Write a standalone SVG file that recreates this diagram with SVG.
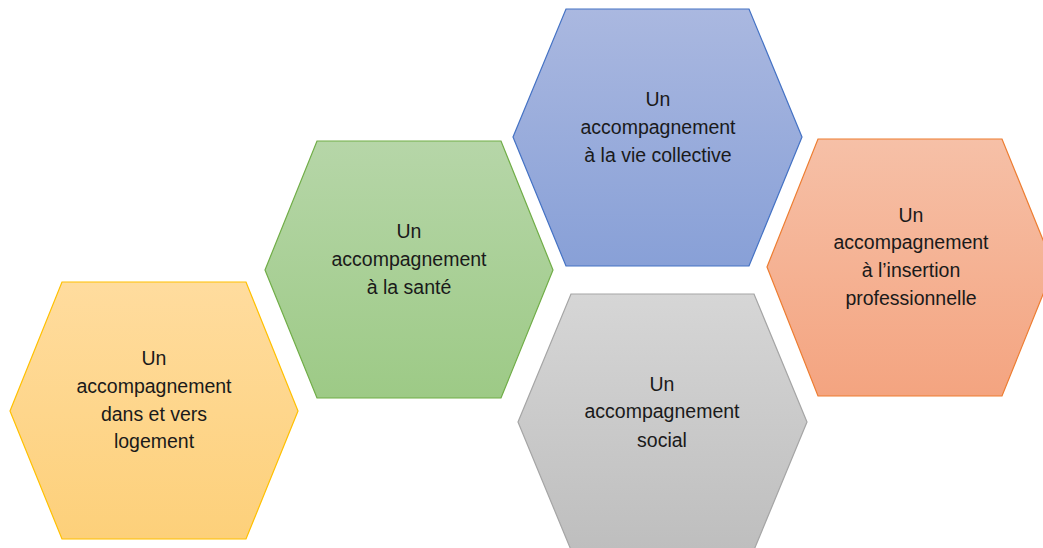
<svg xmlns="http://www.w3.org/2000/svg" width="1043" height="548" viewBox="0 0 1043 548">
  <defs>
    <linearGradient id="gYellow" x1="0" y1="0" x2="0" y2="1">
      <stop offset="0" stop-color="#FFDC9E"/>
      <stop offset="1" stop-color="#FDD07A"/>
    </linearGradient>
    <linearGradient id="gGreen" x1="0" y1="0" x2="0" y2="1">
      <stop offset="0" stop-color="#B6D6A8"/>
      <stop offset="1" stop-color="#9DCA86"/>
    </linearGradient>
    <linearGradient id="gBlue" x1="0" y1="0" x2="0" y2="1">
      <stop offset="0" stop-color="#AAB8E0"/>
      <stop offset="1" stop-color="#88A0D7"/>
    </linearGradient>
    <linearGradient id="gOrange" x1="0" y1="0" x2="0" y2="1">
      <stop offset="0" stop-color="#F6C0A7"/>
      <stop offset="1" stop-color="#F4A480"/>
    </linearGradient>
    <linearGradient id="gGray" x1="0" y1="0" x2="0" y2="1">
      <stop offset="0" stop-color="#D6D6D6"/>
      <stop offset="1" stop-color="#BEBEBE"/>
    </linearGradient>
  </defs>
  <style>
    .hex { stroke-width: 1.2; stroke-linejoin: miter; }
    .lbl { font-family: "Liberation Sans", Arial, sans-serif; font-size: 19.5px; fill: #1a1a1a; text-anchor: middle; }
  </style>
  <rect width="1043" height="548" fill="#ffffff"/>

  <g id="node-logement">
    <polygon class="hex" points="10,411 62,282 246,282 298,411 246,539 62,539" fill="url(#gYellow)" stroke="#FFC000"/>
    <text class="lbl" x="154" y="365">Un</text>
    <text class="lbl" x="154" y="393">accompagnement</text>
    <text class="lbl" x="154" y="421">dans et vers</text>
    <text class="lbl" x="154" y="448">logement</text>
  </g>

  <g id="node-sante">
    <polygon class="hex" points="265,270 317,141 501,141 553,270 501,398 317,398" fill="url(#gGreen)" stroke="#70AD47"/>
    <text class="lbl" x="409" y="238">Un</text>
    <text class="lbl" x="409" y="266">accompagnement</text>
    <text class="lbl" x="409" y="294">à la santé</text>
  </g>

  <g id="node-vie-collective">
    <polygon class="hex" points="513,137 566,9 749,9 802,137 749,266 566,266" fill="url(#gBlue)" stroke="#4472C4"/>
    <text class="lbl" x="658" y="106">Un</text>
    <text class="lbl" x="658" y="134">accompagnement</text>
    <text class="lbl" x="658" y="162">à la vie collective</text>
  </g>

  <g id="node-insertion">
    <polygon class="hex" points="767,267 818,139 1002,139 1054,267 1002,396 818,396" fill="url(#gOrange)" stroke="#ED7D31"/>
    <text class="lbl" x="911" y="222">Un</text>
    <text class="lbl" x="911" y="249">accompagnement</text>
    <text class="lbl" x="911" y="277">à l’insertion</text>
    <text class="lbl" x="911" y="305">professionnelle</text>
  </g>

  <g id="node-social">
    <polygon class="hex" points="518,422 571,294 754,294 807,422 754,550 571,550" fill="url(#gGray)" stroke="#A5A5A5"/>
    <text class="lbl" x="662" y="391">Un</text>
    <text class="lbl" x="662" y="418">accompagnement</text>
    <text class="lbl" x="662" y="447">social</text>
  </g>

  <g id="connectors"></g>
</svg>
